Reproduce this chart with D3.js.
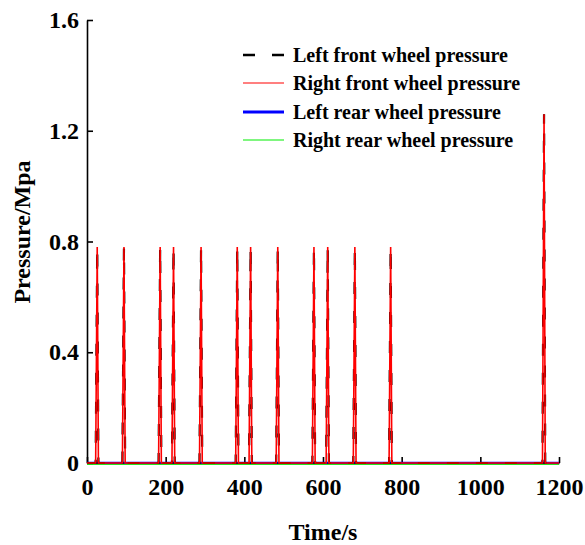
<!DOCTYPE html>
<html>
<head>
<meta charset="utf-8">
<script src="https://cdn.jsdelivr.net/npm/d3@7"></script>
<style>
  body { margin: 0; background: #fff; }
  svg { display: block; }
  text { font-family: "Liberation Serif", "Times New Roman", serif; font-weight: bold; fill: #000; }
</style>
</head>
<body>
<svg id="chart" width="585" height="545"></svg>
<script>
// ---- data ----
const seriesNames = ["Left front wheel pressure", "Right front wheel pressure", "Left rear wheel pressure", "Right rear wheel pressure"];
const seriesColors = ["#000000", "#ff0000", "#0000ff", "#00ee00"];
const xTicks = [0, 200, 400, 600, 800, 1000, 1200];
const yTicks = [0, 0.4, 0.8, 1.2, 1.6];
// spike events (time of rise start, time of peak, time of fall end, peak pressure)
const spikeStart = [22, 90, 182, 216, 286, 378, 412, 481, 573, 608, 677, 768, 1158];
const spikePeakT = [26, 94, 186, 220, 290, 382, 416, 485, 577, 612, 681, 772, 1162];
const spikeEnd   = [29, 97, 189, 223, 293, 385, 419, 488, 580, 615, 684, 775, 1165];
const spikePeak  = [0.78, 0.78, 0.78, 0.78, 0.78, 0.78, 0.78, 0.78, 0.78, 0.78, 0.78, 0.78, 1.26];
const rearTimes  = [0, 1200];
const leftRearValues  = [0, 0];
const rightRearValues = [0, 0];

// ---- layout ----
const svg = d3.select("#chart");
const x = d3.scaleLinear().domain([0, 1200]).range([87, 559]);
const y = d3.scaleLinear().domain([0, 1.6]).range([463, 20]);

function frontSeries() {
  const pts = [[0, 0]];
  spikeStart.forEach((s, i) => {
    pts.push([s, 0], [spikePeakT[i], spikePeak[i]], [spikeEnd[i], 0]);
  });
  pts.push([1200, 0]);
  return pts;
}
const line = d3.line().x(d => x(d[0])).y(d => y(d[1]));
const frontPts = frontSeries();
const leftRear = rearTimes.map((t, i) => [t, leftRearValues[i]]);
const rightRear = rearTimes.map((t, i) => [t, rightRearValues[i]]);

// axes
const xAxis = d3.axisBottom(x).tickValues(xTicks).tickSizeInner(-6).tickSizeOuter(0).tickPadding(15).tickFormat(d3.format("d"));
const yAxis = d3.axisLeft(y).tickValues(yTicks).tickSizeInner(-6).tickSizeOuter(0).tickPadding(8).tickFormat(d => d === 0 ? "0" : d3.format(".1f")(d));

const gx = svg.append("g").attr("transform", "translate(0,463)").call(xAxis);
const gy = svg.append("g").attr("transform", "translate(87,0)").call(yAxis);
[gx, gy].forEach(g => {
  g.select(".domain").attr("stroke", "#000").attr("stroke-width", 1.6);
  g.selectAll(".tick line").attr("stroke", "#000").attr("stroke-width", 1.6);
  g.selectAll(".tick text").style("font-family", '"Liberation Serif", serif').style("font-weight", "bold").style("font-size", "24px").attr("fill", "#000");
});

// series
svg.append("path").datum(rightRear).attr("d", line).attr("fill", "none")
  .attr("stroke", seriesColors[3]).attr("stroke-width", 1).attr("transform", "translate(0,1.3)");
svg.append("path").datum(leftRear).attr("d", line).attr("fill", "none")
  .attr("stroke", seriesColors[2]).attr("stroke-width", 2).attr("transform", "translate(0,-0.3)");
svg.append("path").datum(frontPts).attr("d", line).attr("fill", "none")
  .attr("stroke", seriesColors[0]).attr("stroke-width", 2.2).attr("stroke-dasharray", "12,17");
svg.append("path").datum(frontPts).attr("d", line).attr("fill", "none")
  .attr("stroke", seriesColors[1]).attr("stroke-width", 1.6);

// axis titles
svg.append("text").attr("x", 323).attr("y", 540).attr("text-anchor", "middle")
  .style("font-size", "24px").text("Time/s");
svg.append("text").attr("transform", "translate(30,232) rotate(-90)").attr("text-anchor", "middle")
  .style("font-size", "24px").text("Pressure/Mpa");

// legend
const legY = [55, 83, 112, 140];
const legend = svg.append("g");
seriesNames.forEach((name, i) => {
  const g = legend.append("g").attr("transform", `translate(0,${legY[i]})`);
  const l = g.append("line").attr("x1", 243).attr("x2", 284).attr("y1", 0).attr("y2", 0)
    .attr("stroke", seriesColors[i]);
  if (i === 0) l.attr("stroke-width", 2.6).attr("stroke-dasharray", "12,17");
  else if (i === 2) l.attr("stroke-width", 2.8);
  else l.attr("stroke-width", 1.2);
  g.append("text").attr("x", 293).attr("y", 0).attr("dy", "0.33em")
    .style("font-size", "20px").text(name);
});
</script>
</body>
</html>
